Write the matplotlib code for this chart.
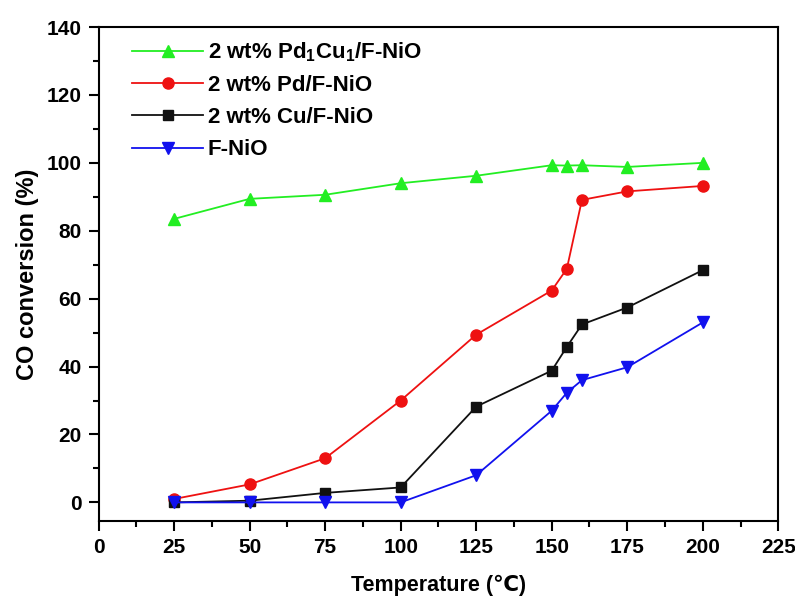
import matplotlib
matplotlib.use('Agg')
import matplotlib.pyplot as plt
from matplotlib.ticker import MultipleLocator

plt.rcParams['font.family'] = ['Liberation Sans', 'DejaVu Sans']
plt.rcParams['font.weight'] = 'bold'
plt.rcParams['mathtext.fontset'] = 'custom'
plt.rcParams['mathtext.rm'] = 'Liberation Sans'
plt.rcParams['mathtext.bf'] = 'Liberation Sans:bold'
plt.rcParams['mathtext.default'] = 'bf'

# data
temp = [25, 50, 75, 100, 125, 150, 155, 160, 175, 200]
pdcu = [83.5, 89.4, 90.6, 94.0, 96.2, 99.3, 99.2, 99.3, 98.8, 100.0]
pd_ = [1.0, 5.3, 13.0, 30.0, 49.4, 62.4, 68.8, 89.1, 91.6, 93.2]
cu = [0.0, 0.5, 2.8, 4.4, 28.2, 38.8, 45.8, 52.4, 57.4, 68.4]
fnio = [0.0, 0.0, 0.0, 0.0, 8.0, 27.0, 32.3, 36.0, 39.8, 53.0]

labels = [r'2 wt% Pd$_1$Cu$_1$/F-NiO', '2 wt% Pd/F-NiO',
          '2 wt% Cu/F-NiO', 'F-NiO']

fig = plt.figure(figsize=(7.95, 6.01), dpi=100)
ax = fig.add_axes([0.124, 0.133, 0.855, 0.822])

ax.plot(temp, pdcu, '-^', color='#22ee22', lw=1.3, ms=9, label=labels[0])
ax.plot(temp, pd_, '-o', color='#ee1111', lw=1.3, ms=8, label=labels[1])
ax.plot(temp, cu, '-s', color='#111111', lw=1.3, ms=6.5, label=labels[2])
ax.plot(temp, fnio, '-v', color='#1111ee', lw=1.3, ms=9, label=labels[3])

ax.set_xlim(0, 225)
ax.set_ylim(-5.5, 140)
ax.xaxis.set_major_locator(MultipleLocator(25))
ax.xaxis.set_minor_locator(MultipleLocator(12.5))
ax.yaxis.set_major_locator(MultipleLocator(20))
ax.yaxis.set_minor_locator(MultipleLocator(10))
ax.tick_params(which='major', direction='out', length=7, width=1.5, labelsize=15, pad=5)
ax.tick_params(which='minor', direction='out', length=4, width=1.5)
for s in ax.spines.values():
    s.set_linewidth(1.5)

ax.set_xlabel('Temperature (\u2103)', fontsize=15.5, fontweight='bold', labelpad=13)
ax.set_ylabel('CO conversion (%)', fontsize=17, fontweight='bold', labelpad=6)

leg = ax.legend(loc='upper left', frameon=False, fontsize=16, handlelength=3.2,
                handletextpad=0.2, labelspacing=0.5, bbox_to_anchor=(0.03, 1.0),
                borderaxespad=0.2)

fig.savefig('out.png', dpi=100)
